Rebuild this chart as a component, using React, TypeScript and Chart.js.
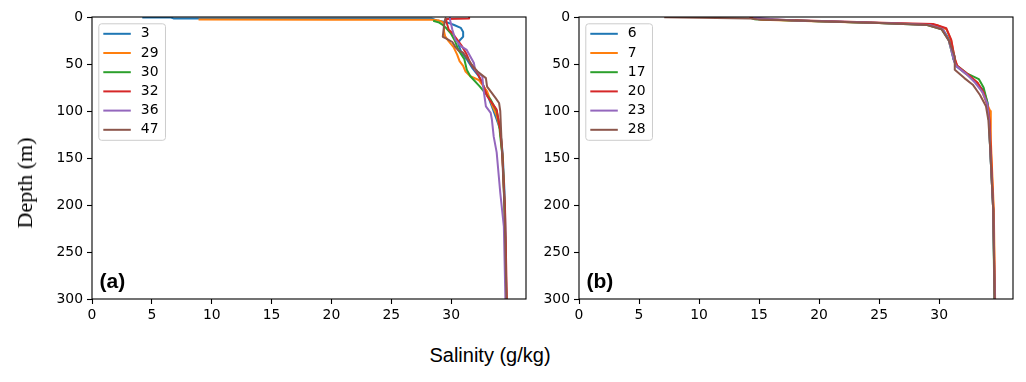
import React, { useEffect, useRef } from "react";
import { Chart, registerables } from "chart.js";

Chart.register(...registerables);

// ---------- data ----------
const COLORS = ["#1f77b4", "#ff7f0e", "#2ca02c", "#d62728", "#9467bd", "#8c564b"];

const xTicks = [0, 5, 10, 15, 20, 25, 30];
const yTicks = [0, 50, 100, 150, 200, 250, 300];

const xLabel = "Salinity (g/kg)";
const yLabel = "Depth (m)";

const panelATag = "(a)";
const panelBTag = "(b)";
const panelALabels = ["3", "29", "30", "32", "36", "47"];
const panelBLabels = ["6", "7", "17", "20", "23", "28"];

// profiles as [depth (m), salinity (g/kg)]
const st3: number[][] = [
  [0.5, 4.2], [0.5, 6.6], [1.5, 6.8], [1.7, 28.4], [3.6, 28.8], [5.5, 29.6], [8.2, 30.2], [11.5, 30.8],
  [16, 31.0], [21, 31.0], [25, 30.7], [29, 30.6], [36, 30.8], [45, 31.3], [55, 31.8], [63, 32.3],
  [77, 32.85], [95, 33.4], [109, 33.8], [120, 34.1], [145, 34.3], [185, 34.45], [235, 34.55], [300, 34.6],
];
const st29: number[][] = [
  [2.6, 8.9], [2.9, 20], [3.0, 28.4], [3.8, 29.0], [5.5, 29.3], [9, 29.4], [15, 29.4], [20.6, 29.5],
  [26, 29.8], [32, 30.2], [40, 30.5], [47, 30.7], [52, 31.0], [58, 31.2], [63, 31.6], [67, 32.3],
  [79, 33.0], [93, 33.4], [105, 33.8], [120, 34.1], [150, 34.3], [200, 34.45], [300, 34.6],
];
const st30: number[][] = [
  [4, 28.5], [6, 29.0], [8.5, 29.3], [12, 29.6], [18, 30.0], [25, 30.3], [35, 30.6], [45, 31.1],
  [56, 31.3], [63, 31.6], [74, 32.4], [88, 33.3], [100, 33.8], [113, 34.0], [127, 34.1], [150, 34.3],
  [200, 34.45], [300, 34.6],
];
const st32: number[][] = [
  [0.8, 31.5], [1.6, 31.5], [2.0, 29.6], [5, 29.6], [13.5, 29.8], [17, 30.1], [24, 30.5], [31, 30.9],
  [40, 31.3], [49, 31.6], [60, 32.2], [70, 32.6], [84, 33.0], [98.6, 33.8], [120, 34.1], [141, 34.25],
  [205, 34.5], [300, 34.65],
];
const st36: number[][] = [
  [0.8, 29.9], [3, 29.9], [8, 30.0], [13.5, 30.1], [24, 30.35], [31, 30.8], [35, 31.3], [42, 31.6],
  [49, 31.9], [56, 32.0], [63, 32.6], [77, 32.7], [95, 32.9], [102, 33.3], [109, 33.4], [127, 33.55],
  [144, 33.8], [187, 34.1], [223, 34.4], [300, 34.53],
];
const st47: number[][] = [
  [0.8, 29.6], [2, 29.5], [10, 29.4], [21, 29.3], [23, 29.6], [26.6, 30.1], [32, 30.35], [35.5, 30.6],
  [38, 31.0], [45, 31.4], [52, 31.8], [58, 32.2], [65, 32.9], [74, 33.0], [86, 33.7], [91.5, 34.0],
  [100, 34.1], [130, 34.2], [200, 34.45], [300, 34.62],
];

const st6: number[][] = [
  [0.5, 14.5], [2.5, 15], [4.5, 20], [6.5, 25], [8, 29.2], [13, 30.3], [25, 30.9], [45, 31.2],
  [52, 31.4], [61, 32.3], [70, 33.1], [78, 33.7], [92, 34.05], [110, 34.15], [140, 34.25], [205, 34.5],
  [300, 34.62],
];
const st7: number[][] = [
  [0.5, 14.6], [3, 15.2], [5, 21], [7, 26.5], [8.5, 29.8], [13, 30.6], [25, 31.0], [45, 31.3],
  [52, 31.5], [60, 32.2], [70, 33.2], [80, 33.6], [90, 33.9], [100, 34.25], [130, 34.3], [205, 34.55],
  [300, 34.66],
];
const st17: number[][] = [
  [0.8, 14.3], [2.3, 14.6], [4.5, 20], [6.5, 25], [8.5, 29.0], [13, 30.2], [25, 30.8], [45, 31.2],
  [52, 31.5], [60, 32.3], [66, 33.3], [75, 33.7], [90, 34.0], [110, 34.15], [140, 34.25], [205, 34.5],
  [300, 34.6],
];
const st20: number[][] = [
  [0.3, 14.2], [2.5, 15], [4.5, 21], [6.5, 26], [7.5, 29.5], [12, 30.6], [24, 31.0], [44, 31.3],
  [52, 31.5], [61, 32.4], [70, 33.2], [80, 33.7], [95, 34.05], [110, 34.2], [140, 34.3], [205, 34.52],
  [300, 34.64],
];
const st23: number[][] = [
  [0.5, 14.5], [1.5, 15.5], [2.5, 16.2], [3.8, 18], [5, 22], [7, 26.5], [8.5, 29.2], [13, 30.3],
  [25, 30.8], [45, 31.2], [52, 31.4], [61, 32.3], [70, 33.0], [80, 33.6], [92, 34.0], [110, 34.15],
  [140, 34.25], [205, 34.5], [300, 34.63],
];
const st28: number[][] = [
  [0.2, 7.1], [0.8, 10], [1.5, 14.3], [2.5, 14.8], [4.5, 20], [6.5, 25], [8.5, 29.0], [13, 30.2],
  [25, 30.8], [42, 31.3], [56, 31.3], [65, 32.1], [72, 32.8], [83, 33.4], [95, 33.9], [110, 34.1],
  [140, 34.25], [205, 34.5], [300, 34.62],
];

const panelAProfiles = [st3, st29, st30, st32, st36, st47];
const panelBProfiles = [st6, st7, st17, st20, st23, st28];

const panelAXMax = 36.25;
const panelBXMax = 36.15;

// ---------- chart helpers ----------
const TICK_FONT = { family: "'DejaVu Sans', sans-serif", size: 13.9 };

const decorPlugin = {
  id: "decor",
  afterDatasetsDraw(chart: any) {
    const { ctx, chartArea: a } = chart;
    const opts = chart.options.plugins.decor;
    ctx.save();
    // frame (all four spines)
    ctx.strokeStyle = "#000";
    ctx.lineWidth = 1.1;
    ctx.strokeRect(a.left, a.top, a.right - a.left, a.bottom - a.top);

    // legend
    const labels: string[] = chart.data.datasets.map((d: any) => d.label);
    ctx.font = "13.9px 'DejaVu Sans', sans-serif";
    const maxW = Math.max(...labels.map((l) => ctx.measureText(l).width));
    const bx = a.left + 6.8;
    const by = a.top + 6.8;
    const rowH = 19.2;
    const bw = 43 + maxW + 6;
    const bh = 10 + rowH * (labels.length - 1) + 10.5;
    ctx.beginPath();
    const r = 2.8;
    ctx.moveTo(bx + r, by);
    ctx.lineTo(bx + bw - r, by);
    ctx.arcTo(bx + bw, by, bx + bw, by + r, r);
    ctx.lineTo(bx + bw, by + bh - r);
    ctx.arcTo(bx + bw, by + bh, bx + bw - r, by + bh, r);
    ctx.lineTo(bx + r, by + bh);
    ctx.arcTo(bx, by + bh, bx, by + bh - r, r);
    ctx.lineTo(bx, by + r);
    ctx.arcTo(bx, by, bx + r, by, r);
    ctx.closePath();
    ctx.fillStyle = "rgba(255,255,255,0.8)";
    ctx.fill();
    ctx.strokeStyle = "#cccccc";
    ctx.lineWidth = 1;
    ctx.stroke();
    labels.forEach((l, i) => {
      const cy = by + 10 + i * rowH;
      ctx.strokeStyle = chart.data.datasets[i].borderColor;
      ctx.lineWidth = 2;
      ctx.beginPath();
      ctx.moveTo(bx + 4.5, cy);
      ctx.lineTo(bx + 32, cy);
      ctx.stroke();
      ctx.fillStyle = "#000";
      ctx.textBaseline = "middle";
      ctx.textAlign = "left";
      ctx.fillText(l, bx + 42, cy);
    });

    // panel tag
    ctx.font = "bold 21px 'Liberation Sans', Arial, sans-serif";
    ctx.fillStyle = "#000";
    ctx.textBaseline = "alphabetic";
    ctx.fillText(opts.tag, a.left + 7.5, a.bottom - 11);
    ctx.restore();
  },
};

function makeConfig(labels: string[], profiles: number[][][], xMax: number, tag: string, yWidth: number): any {
  return {
    type: "line",
    data: {
      datasets: profiles.map((p, i) => ({
        label: labels[i],
        data: p.map(([d, s]) => ({ x: s, y: d })),
        borderColor: COLORS[i],
        backgroundColor: COLORS[i],
        borderWidth: 2,
        pointRadius: 0,
        tension: 0,
        fill: false,
        borderJoinStyle: "round",
        order: profiles.length - i,
      })),
    },
    options: {
      animation: false,
      responsive: false,
      events: [],
      layout: { padding: { left: 0, right: 14, top: 17, bottom: 0 } },
      plugins: {
        legend: { display: false },
        tooltip: { enabled: false },
        decor: { tag },
      },
      scales: {
        x: {
          type: "linear",
          min: 0,
          max: xMax,
          afterBuildTicks: (scale: any) => {
            scale.ticks = xTicks.map((v) => ({ value: v }));
          },
          afterFit: (scale: any) => {
            scale.height = 31;
          },
          grid: { drawOnChartArea: false, drawTicks: true, tickLength: 5, color: "#000", tickWidth: 1.1 },
          border: { display: false },
          ticks: { color: "#000", font: TICK_FONT, padding: 3, maxRotation: 0, autoSkip: false },
        },
        y: {
          type: "linear",
          reverse: true,
          min: 0,
          max: 300,
          afterBuildTicks: (scale: any) => {
            scale.ticks = yTicks.map((v) => ({ value: v }));
          },
          afterFit: (scale: any) => {
            scale.width = yWidth;
          },
          grid: { drawOnChartArea: false, drawTicks: true, tickLength: 5, color: "#000", tickWidth: 1.1 },
          border: { display: false },
          ticks: { color: "#000", font: TICK_FONT, padding: 4, autoSkip: false },
        },
      },
    },
    plugins: [decorPlugin],
  };
}

function Panel(props: { left: number; width: number; yWidth: number; labels: string[]; profiles: number[][][]; xMax: number; tag: string; padRight: number }) {
  const ref = useRef<HTMLCanvasElement | null>(null);
  useEffect(() => {
    if (!ref.current) return;
    const cfg = makeConfig(props.labels, props.profiles, props.xMax, props.tag, props.yWidth);
    cfg.options.layout.padding.right = props.padRight;
    const chart = new Chart(ref.current, cfg);
    return () => chart.destroy();
  }, []);
  return (
    <canvas
      ref={ref}
      width={props.width}
      height={330}
      style={{ position: "absolute", left: props.left, top: 0, width: props.width, height: 330 }}
    />
  );
}

export default function App() {
  return (
    <div style={{ position: "fixed", left: 0, top: 0, width: 1026, height: 382, background: "#fff", overflow: "hidden" }}>
      <Panel left={0} width={540} yWidth={92} padRight={14} labels={panelALabels} profiles={panelAProfiles} xMax={panelAXMax} tag={panelATag} />
      <Panel left={487} width={539} yWidth={92} padRight={13} labels={panelBLabels} profiles={panelBProfiles} xMax={panelBXMax} tag={panelBTag} />
      <div
        style={{
          position: "absolute",
          left: 25,
          top: 183,
          transform: "translate(-50%, -50%) rotate(-90deg)",
          fontFamily: "'Liberation Serif', 'Times New Roman', serif",
          fontSize: 22,
          lineHeight: "22px",
          whiteSpace: "nowrap",
          color: "#000",
        }}
      >
        {yLabel}
      </div>
      <div
        style={{
          position: "absolute",
          left: 490,
          top: 345,
          transform: "translateX(-50%)",
          fontFamily: "'Liberation Sans', Arial, sans-serif",
          fontSize: 20,
          lineHeight: "20px",
          whiteSpace: "nowrap",
          color: "#000",
        }}
      >
        {xLabel}
      </div>
    </div>
  );
}
